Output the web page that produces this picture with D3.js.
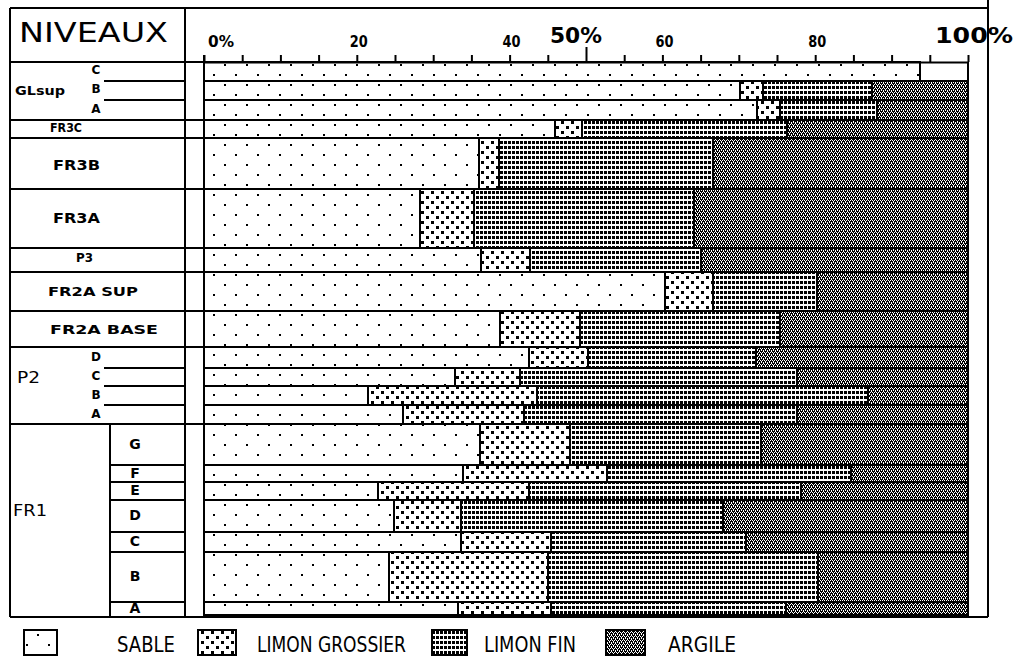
<!DOCTYPE html>
<html><head><meta charset="utf-8">
<script src="https://cdn.jsdelivr.net/npm/d3@7"></script>
<style>
body{margin:0;background:#fff}
svg{display:block}
text{font-family:"DejaVu Sans",sans-serif;fill:#000}
</style>
</head><body>
<svg id="chart" width="1027" height="670"></svg>
<script>
// ---------------- DATA ----------------
const groups    = ["GLsup","GLsup","GLsup","FR3C","FR3B","FR3A","P3","FR2A SUP","FR2A BASE","P2","P2","P2","P2","FR1","FR1","FR1","FR1","FR1","FR1","FR1"];
const subLevels = ["C","B","A","","","","","","","D","C","B","A","G","F","E","D","C","B","A"];
// relative thickness of each level (row height)
const thickness = [19,19,20,18,51,59,24,39,37,21,18,19,19,41,17,18,32,20,50,13];
// percentages
const sable         = [93.7,70.2,72.4,45.9,36.0,28.3,36.3,60.3,38.7,42.5,32.9,21.5,26.0,36.1,33.9,22.8,24.9,33.6,24.2,33.3];
const limonGrossier = [ 0.0, 3.0, 3.0, 3.6, 2.6, 7.0, 6.4, 6.3,10.5, 7.8, 8.4,22.1,15.9,11.8,18.8,19.7, 8.7,11.8,20.8,12.1];
const limonFin      = [ 0.0,14.2,12.7,26.8,28.0,28.9,22.3,13.7,26.2,22.0,36.3,43.3,35.7,25.0,32.0,35.6,34.3,25.6,35.4,30.8];
const argile        = [ 0.0,12.6,11.9,23.7,33.4,35.8,35.0,19.7,24.6,27.7,22.4,13.1,22.4,27.1,15.3,21.9,32.1,29.0,19.6,23.8];
const fractions     = ["SABLE","LIMON GROSSIER","LIMON FIN","ARGILE"];
const minorTicks    = [0,5,10,15,20,25,30,35,40,45,50,55,60,65,70,75,80,85,90,95,100];
const tickLabelVals = [0,20,40,50,60,80,100];
const tickLabels    = ["0%","20","40","50%","60","80","100%"];
const headerTitle   = "NIVEAUX";

// ---------------- SETUP ----------------
const svg = d3.select("#chart");
const W = 1027, H = 670;
svg.append("rect").attr("width",W).attr("height",H).attr("fill","#fff");

const frameL = 10, frameT = 8, colSep = 185, frameB = 617;
const x = d3.scaleLinear().domain([0,100]).range([204,968]);
const frameR = x(100) + 20;
const cum = d3.cumsum(thickness);
const starts = [0, ...Array.from(cum).slice(0,-1)];
const y = d3.scaleLinear().domain([0, cum[cum.length-1]]).range([62, 615]);

// ---------------- PATTERNS ----------------
const defs = svg.append("defs");
function pat(id, w, h, draw){
  const p = defs.append("pattern").attr("id",id).attr("patternUnits","userSpaceOnUse")
    .attr("width",w).attr("height",h);
  draw(p);
}
pat("p-sable", 22, 20, p=>{
  p.append("rect").attr("width",22).attr("height",20).attr("fill","#fff");
  p.append("rect").attr("x",4).attr("y",4).attr("width",2).attr("height",2).attr("fill","#000");
  p.append("rect").attr("x",15).attr("y",14).attr("width",2).attr("height",2).attr("fill","#000");
});
pat("p-lg", 10, 10, p=>{
  p.append("rect").attr("width",10).attr("height",10).attr("fill","#fff");
  p.append("rect").attr("x",1).attr("y",1).attr("width",3).attr("height",3).attr("fill","#000");
  p.append("rect").attr("x",6).attr("y",6).attr("width",3).attr("height",3).attr("fill","#000");
});
pat("p-lf", 4, 5, p=>{
  p.append("rect").attr("width",4).attr("height",5).attr("fill","#fff");
  p.append("rect").attr("x",0).attr("y",1).attr("width",3).attr("height",3).attr("fill","#000");
});
pat("p-ar", 4, 4, p=>{
  p.append("rect").attr("width",4).attr("height",4).attr("fill","#000");
  [[0,0],[2,0],[1,1],[1,2],[3,2],[3,3]].forEach(([a,b])=>
    p.append("rect").attr("x",a).attr("y",b).attr("width",1).attr("height",1).attr("fill","#fff"));
});
const fillFor = {"SABLE":"url(#p-sable)","LIMON GROSSIER":"url(#p-lg)","LIMON FIN":"url(#p-lf)","ARGILE":"url(#p-ar)"};

// ---------------- BARS ----------------
const table = groups.map((g,i)=>({i, "SABLE":sable[i], "LIMON GROSSIER":limonGrossier[i], "LIMON FIN":limonFin[i], "ARGILE":argile[i]}));
const stacked = d3.stack().keys(fractions)(table);
const barG = svg.append("g").attr("shape-rendering","crispEdges");
stacked.forEach(series=>{
  barG.selectAll(null).data(series.filter(d=>d[1]-d[0]>0)).join("rect")
    .attr("x", d=>x(d[0]))
    .attr("y", d=>y(starts[d.data.i]))
    .attr("width", d=>x(d[1])-x(d[0]))
    .attr("height", d=>y(starts[d.data.i]+thickness[d.data.i])-y(starts[d.data.i]))
    .attr("fill", fillFor[series.key])
    .attr("stroke","#000").attr("stroke-width",2);
});

// ---------------- AXIS ----------------
const axis = d3.axisTop(x).tickValues(minorTicks).tickSize(7).tickSizeOuter(0).tickFormat("");
const axG = svg.append("g").attr("transform","translate(0,62)").call(axis);
axG.select(".domain").attr("stroke","#000").attr("stroke-width",2);
axG.selectAll(".tick line").attr("stroke","#000").attr("stroke-width",2)
  .attr("y2", d=> d===50 ? -15 : -7);
svg.selectAll(".ticklab").data(tickLabelVals).join("text")
  .attr("class","ticklab")
  .attr("x", (d,i)=> d===0 ? x(d)+4 : (d===100 ? x(d)+6 : (d===50 ? x(d)-10 : x(d)+2)))
  .attr("y", d=> (d===50||d===100) ? 43 : 47)
  .attr("text-anchor", d=> d===0 ? "start" : "middle")
  .attr("font-weight","bold")
  .attr("font-size", d=> (d===50||d===100) ? 22 : 15)
  .attr("textLength", (d,i)=> d===0 ? 26 : (d===50 ? 52 : (d===100 ? 78 : 18)))
  .attr("lengthAdjust","spacingAndGlyphs")
  .text((d,i)=>tickLabels[i]);

// ---------------- FRAME / TABLE ----------------
const lines = svg.append("g").attr("stroke","#000").attr("stroke-width",2).attr("shape-rendering","crispEdges");
function ln(x1,y1,x2,y2){ lines.append("line").attr("x1",x1).attr("y1",y1).attr("x2",x2).attr("y2",y2); }
ln(frameL, frameT, frameR, frameT);
ln(frameL, frameB, frameR, frameB);
ln(frameL, frameT, frameL, frameB);
ln(colSep, frameT, colSep, frameB);
ln(frameR, 0, frameR, frameB);
ln(x(0), 55, x(0), frameB);
ln(x(100), 62, x(100), frameB);
ln(frameL, 62, x(0), 62);

// group boundaries
const groupNames = [];
groups.forEach((g,i)=>{ if(i===0 || groups[i-1]!==g) groupNames.push({name:g, first:i, last:i}); else groupNames[groupNames.length-1].last=i; });
groupNames.forEach(gr=>{
  const yb = y(starts[gr.last]+thickness[gr.last]);
  if (gr.last < groups.length-1) ln(frameL, yb, x(0), yb);
});
// sub-row separators
const subLineStart = {"GLsup":104, "P2":104, "FR1":110};
const subLetterX   = {"GLsup":96, "P2":96, "FR1":135};
const subLetterSize= {"GLsup":12, "P2":12, "FR1":14};
groups.forEach((g,i)=>{
  if (i < groups.length-1 && groups[i+1]===g) {
    const yb = y(starts[i]+thickness[i]);
    ln(subLineStart[g], yb, colSep, yb);
  }
});
// FR1 inner column
const fr1 = groupNames.find(g=>g.name==="FR1");
ln(110, y(starts[fr1.first]), 110, frameB);

// header title
svg.append("text").attr("x",19).attr("y",42).attr("font-size",26)
  .attr("textLength",149).attr("lengthAdjust","spacingAndGlyphs").text(headerTitle);

// group labels
const groupLabelStyle = {
  "GLsup":    {x:15, size:12, bold:true,  len:50, dy:0},
  "FR3C":     {x:50, size:12, bold:true,  len:32, dy:-1},
  "FR3B":     {x:53, size:14, bold:true,  len:47, dy:2},
  "FR3A":     {x:53, size:14, bold:true,  len:47, dy:0},
  "P3":       {x:76, size:13, bold:true,  len:17, dy:-2},
  "FR2A SUP": {x:48, size:13, bold:true,  len:90, dy:0},
  "FR2A BASE":{x:50, size:13, bold:true,  len:108,dy:0},
  "P2":       {x:17, size:16, bold:false, len:23, dy:-8},
  "FR1":      {x:13, size:16, bold:false, len:34, dy:-9}
};
groupNames.forEach(gr=>{
  const s = groupLabelStyle[gr.name];
  const yc = (y(starts[gr.first]) + y(starts[gr.last]+thickness[gr.last]))/2 + s.dy;
  svg.append("text").attr("x",s.x).attr("y",yc).attr("dominant-baseline","central")
    .attr("font-size",s.size).attr("font-weight",s.bold?"bold":"normal")
    .attr("textLength",s.len).attr("lengthAdjust","spacingAndGlyphs").text(gr.name);
});
// sub-level letters
subLevels.forEach((l,i)=>{
  if(!l) return;
  const g = groups[i];
  const yc = y(starts[i]+thickness[i]/2) - 1;
  svg.append("text").attr("x",subLetterX[g]).attr("y",yc).attr("dominant-baseline","central")
    .attr("text-anchor","middle").attr("font-size",subLetterSize[g]).attr("font-weight","bold").text(l);
});

// ---------------- LEGEND ----------------
const legBoxX  = [24, 198, 432, 606];
const legBoxW  = [33, 38, 35, 39];
const legTextX = [117, 257, 484, 668];
const legTextW = [58, 149, 92, 68];
fractions.forEach((f,i)=>{
  svg.append("rect").attr("x",legBoxX[i]).attr("y",630).attr("width",legBoxW[i]).attr("height",25)
    .attr("fill",fillFor[f]).attr("stroke","#000").attr("stroke-width",2).attr("shape-rendering","crispEdges");
  svg.append("text").attr("x",legTextX[i]).attr("y",652).attr("font-size",21)
    .attr("textLength",legTextW[i]).attr("lengthAdjust","spacingAndGlyphs").text(f);
});
</script>
</body></html>
